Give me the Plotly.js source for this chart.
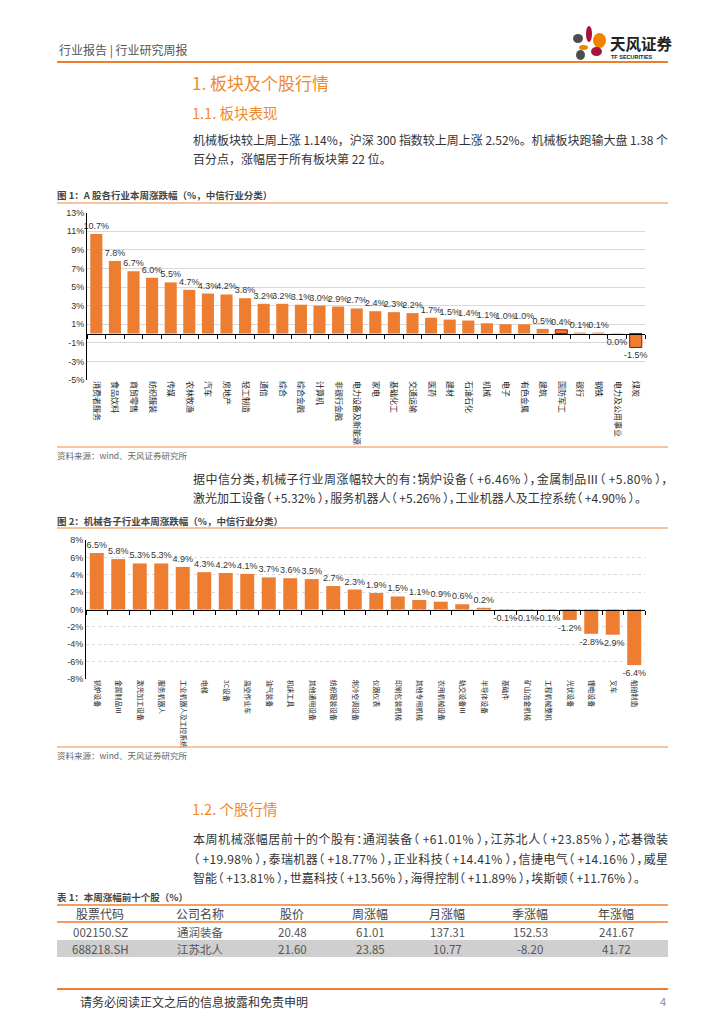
<!DOCTYPE html>
<html>
<head>
<meta charset="utf-8">
<script src="https://cdn.plot.ly/plotly-3.0.1.min.js"></script>
<style>
html,body{margin:0;padding:0;background:#fff;}
#page{width:724px;height:1024px;}
</style>
</head>
<body>
<div id="page"></div>
<script>
// ---------- data ----------
const cats1 = ['消费者服务','食品饮料','商贸零售','纺织服装','传媒','农林牧渔','汽车','房地产','轻工制造','通信','综合','综合金融','计算机','非银行金融','电力设备及新能源','家电','基础化工','交通运输','医药','建材','石油石化','机械','电子','有色金属','建筑','国防军工','银行','钢铁','电力及公用事业','煤炭'];
const vals1 = [10.7,7.8,6.7,6.0,5.5,4.7,4.3,4.2,3.8,3.2,3.2,3.1,3.0,2.9,2.7,2.4,2.3,2.2,1.7,1.5,1.4,1.1,1.0,1.0,0.5,0.4,0.1,0.1,-0.04,-1.5];
const highlight1 = ['国防军工','煤炭'];

const cats2 = ['锅炉设备','金属制品Ⅲ','激光加工设备','服务机器人','工业机器人及工控系统','电梯','3C设备','高空作业车','油气装备','机床工具','其他通用设备','纺织服装设备','制冷空调设备','仪器仪表','印刷包装机械','其他专用机械','农用机械设备','轨交设备Ⅲ','半导体设备','基础件','矿山冶金机械','工程机械整机','光伏设备','锂电设备','叉车','船舶制造'];
const vals2 = [6.5,5.8,5.3,5.3,4.9,4.3,4.2,4.1,3.7,3.6,3.5,2.7,2.3,1.9,1.5,1.1,0.9,0.6,0.2,-0.1,-0.1,-0.1,-1.2,-2.8,-2.9,-6.4];

const y1Ticks = [13,11,9,7,5,3,1,-1,-3,-5];
const y2Ticks = [8,6,4,2,0,-2,-4,-6,-8];

const tableHeader = ['股票代码','公司名称','股价','周涨幅','月涨幅','季涨幅','年涨幅'];
const tableRows = [
  ['002150.SZ','通润装备','20.48','61.01','137.31','152.53','241.67'],
  ['688218.SH','江苏北人','21.60','23.85','10.77','-8.20','41.72']
];

// ---------- helpers ----------
const W = 724, H = 1024;
const fx = x => x / W;
const fy = y => 1 - y / H;
const CJK = 'Noto Sans CJK SC, sans-serif';
const NUM = 'Liberation Sans, Noto Sans CJK SC, sans-serif';
const ORANGE = '#ED7D31';
const HEAD = '#F0892D';
const pct = v => (Math.abs(v) < 0.05 ? '0.0' : v.toFixed(1)) + '%';

const annotations = [];
const fitMap = {};
function txt(text, x, y, size, color, extra) {
  annotations.push(Object.assign({
    text: text, x: fx(x), y: fy(y), xref: 'paper', yref: 'paper',
    xanchor: 'left', yanchor: 'middle', showarrow: false, align: 'left',
    font: {family: CJK, size: size, color: color}
  }, extra || {}));
  return annotations.length - 1;
}
// body line: justified to a right edge (end) when given; narrow punctuation when palt
function body(text, y, end, palt) {
  const i = txt(text, 191, y, 12, '#333');
  fitMap[i] = {end: end, palt: palt};
}
const shapes = [];
function hline(x0, x1, y, color, w) {
  shapes.push({type: 'line', xref: 'paper', yref: 'paper', x0: fx(x0), x1: fx(x1), y0: fy(y), y1: fy(y), line: {color: color, width: w}});
}
function ell(x0, y0, x1, y1, color) {
  shapes.push({type: 'circle', xref: 'paper', yref: 'paper', x0: fx(x0), x1: fx(x1), y0: fy(y1), y1: fy(y0), fillcolor: color, line: {width: 0}});
}

// ---------- page text ----------
txt('行业报告 | 行业研究周报', 57, 50, 12, '#555');
hline(57, 668, 62, ORANGE, 2);
// logo
ell(586, 26, 592, 42, '#A8123B');
ell(593, 33, 606, 48, '#F08300');
ell(573, 34, 583, 43, '#4D4D4D');
ell(579, 45, 588, 50, '#F08300');
ell(591, 47, 602, 56, '#A8123B');
ell(576, 50, 585, 60, '#4D4D4D');
txt('<b>天风证券</b>', 608, 43, 15.5, '#222');
txt('<b>TF SECURITIES</b>', 609, 56.5, 5.5, '#222', {font: {family: NUM, size: 5.5, color: '#222'}});

txt('1. 板块及个股行情', 190, 82, 17, HEAD);
txt('1.1. 板块表现', 190, 112, 14.5, HEAD);
body('机械板块较上周上涨 1.14%，沪深 300 指数较上周上涨 2.52%。机械板块跑输大盘 1.38 个', 139, 668, false);
body('百分点，涨幅居于所有板块第 22 位。', 158, null, false);

txt('<b>图 1：A 股各行业本周涨跌幅（%，中信行业分类）</b>', 55, 195, 9.5, '#444');
hline(57, 668, 203, '#F4B183', 1.5);
hline(57, 668, 447, '#F4B183', 1.5);
txt('资料来源：wind、天风证券研究所', 55, 455, 8.5, '#666');

body('据中信分类，机械子行业周涨幅较大的有：锅炉设备（ +6.46% ），金属制品Ⅲ（ +5.80% ），', 478, 668, true);
body('激光加工设备（ +5.32% ），服务机器人（ +5.26% ），工业机器人及工控系统（ +4.90% ）。', 497, 641, true);

txt('<b>图 2：机械各子行业本周涨跌幅（%，中信行业分类）</b>', 55, 521, 9.5, '#444');
hline(57, 668, 528, '#F4B183', 1.5);
hline(57, 668, 747, '#F4B183', 1.5);
txt('资料来源：wind、天风证券研究所', 55, 755, 8.5, '#666');

txt('1.2. 个股行情', 190, 808, 14.5, HEAD);
body('本周机械涨幅居前十的个股有：通润装备（ +61.01% ），江苏北人（ +23.85% ），芯碁微装', 838, 668, true);
body('（ +19.98% ），泰瑞机器（ +18.77% ），正业科技（ +14.41% ），信捷电气（ +14.16% ），威星', 858, 668, true);
body('智能（ +13.81% ），世嘉科技（ +13.56% ），海得控制（ +11.89% ），埃斯顿（ +11.76% ）。', 877, 640, true);

txt('<b>表 1：本周涨幅前十个股（%）</b>', 55, 897, 9.5, '#444');

// table
const colX = [100, 200, 292, 370, 447, 530, 616];
shapes.push({type: 'rect', xref: 'paper', yref: 'paper', x0: fx(57), x1: fx(668), y0: fy(957), y1: fy(940), fillcolor: '#CFCFCF', line: {width: 0}});
hline(57, 668, 905, ORANGE, 1.5);
hline(57, 668, 922, ORANGE, 1.5);
tableHeader.forEach((h, i) => txt(h, colX[i], 913.5, 12, '#444', {xanchor: 'center', align: 'center'}));
tableRows.forEach((row, r) => {
  row.forEach((c, i) => txt(c, colX[i], 931.5 + r * 17, 11.5, '#555', {xanchor: 'center', align: 'center'}));
});

// footer
hline(57, 668, 989, ORANGE, 2);
txt('请务必阅读正文之后的信息披露和免责申明', 78, 1001, 12, '#333');
txt('4', 668, 1001, 11, '#888', {xanchor: 'right', align: 'right'});

// ---------- charts ----------
const y1Range = [-5, 13], y2Range = [-8, 8];
const y1Dom = [fy(380), fy(212.7)];
const y2Dom = [fy(679), fy(540)];
const x1Dom = [fx(87), fx(645)];
const x2Dom = [fx(86), fx(645)];
const zeroPos = (dom, rng) => dom[0] + (0 - rng[0]) / (rng[1] - rng[0]) * (dom[1] - dom[0]);

const lineCol1 = cats1.map(c => highlight1.includes(c) ? '#C00000' : ORANGE);
const lineW1 = cats1.map(c => highlight1.includes(c) ? 1 : 0);

const traces = [
  {type: 'bar', x: cats1, y: vals1, xaxis: 'x', yaxis: 'y',
   marker: {color: ORANGE, line: {color: lineCol1, width: lineW1}},
   text: vals1.map(pct), textposition: 'outside', cliponaxis: false, constraintext: 'none',
   textfont: {family: NUM, size: 9, color: '#333'}, hoverinfo: 'skip', showlegend: false},
  {type: 'scatter', mode: 'none', x: cats1, y: vals1, xaxis: 'x2', yaxis: 'y', hoverinfo: 'skip', showlegend: false},
  {type: 'bar', x: cats2, y: vals2, xaxis: 'x3', yaxis: 'y2',
   marker: {color: ORANGE},
   text: vals2.map(pct), textposition: 'outside', cliponaxis: false, constraintext: 'none',
   textfont: {family: NUM, size: 9, color: '#333'}, hoverinfo: 'skip', showlegend: false},
  {type: 'scatter', mode: 'none', x: cats2, y: vals2, xaxis: 'x4', yaxis: 'y2', hoverinfo: 'skip', showlegend: false}
];

const catAxis = (dom, anchor, cats, size) => ({
  domain: dom, anchor: anchor, type: 'category', categoryorder: 'array', categoryarray: cats,
  range: [-0.5, cats.length - 0.5], tickangle: 90, showgrid: false, showline: false, zeroline: false,
  ticks: '', tickfont: {family: CJK, size: size, color: '#222'}, fixedrange: true
});
const tickAxis = (dom, over, pos, cats) => ({
  domain: dom, overlaying: over, anchor: 'free', position: pos, type: 'category',
  categoryorder: 'array', categoryarray: cats, range: [-0.5, cats.length - 0.5],
  tickson: 'boundaries', ticks: 'outside', ticklen: 4, tickcolor: '#000', tickwidth: 1,
  showticklabels: false, showline: true, linecolor: '#000', linewidth: 1, showgrid: false, zeroline: false
});
const valAxis = (dom, anchor, rng, ticks, dash) => ({
  domain: dom, anchor: anchor, range: rng, tickvals: ticks, ticktext: ticks.map(t => t + '%'),
  showline: true, linecolor: '#000', linewidth: 1, ticks: '', zeroline: false,
  showgrid: true, gridcolor: '#D9D9D9', gridwidth: 1, griddash: dash,
  tickfont: {family: NUM, size: 9, color: '#333'}, fixedrange: true
});

const layout = {
  width: W, height: H, autosize: false,
  margin: {l: 0, r: 0, t: 0, b: 0, pad: 0},
  paper_bgcolor: '#fff', plot_bgcolor: 'rgba(0,0,0,0)',
  bargap: 0.35, showlegend: false,
  xaxis: catAxis(x1Dom, 'y', cats1, 8),
  xaxis2: tickAxis(x1Dom, 'x', zeroPos(y1Dom, y1Range), cats1),
  yaxis: valAxis(y1Dom, 'x', y1Range, y1Ticks, 'solid'),
  xaxis3: catAxis(x2Dom, 'y2', cats2, 6.8),
  xaxis4: tickAxis(x2Dom, 'x3', zeroPos(y2Dom, y2Range), cats2),
  yaxis2: valAxis(y2Dom, 'x3', y2Range, y2Ticks, 'dot'),
  annotations: annotations,
  shapes: shapes
};

Plotly.newPlot('page', traces, layout, {staticPlot: true, displayModeBar: false}).then(gd => {
  const base = gd.getBoundingClientRect().left;
  gd.querySelectorAll('g.annotation').forEach(g => {
    const spec = fitMap[+g.getAttribute('data-index')];
    if (!spec) return;
    const t = g.querySelector('text.annotation-text');
    if (!t) return;
    if (spec.palt) t.style.fontFeatureSettings = '"palt" 1';
    if (spec.end == null) return;
    const left = t.getBoundingClientRect().left - base;
    const len = t.getComputedTextLength();
    const n = t.textContent.length;
    const ls = (spec.end - left - len) / (n - 1);
    t.style.letterSpacing = ls.toFixed(3) + 'px';
  });
});
</script>
</body>
</html>
